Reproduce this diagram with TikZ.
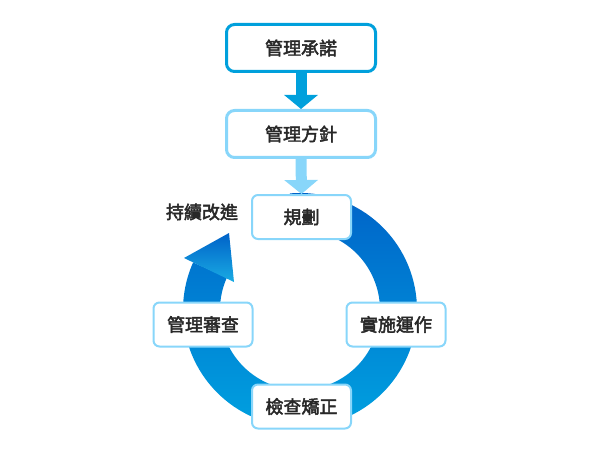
\documentclass[tikz,border=0pt]{standalone}
\usepackage{fontspec}
\newfontfamily\cjk{Noto Sans CJK TC}[FakeBold=2.6]
\usetikzlibrary{arrows.meta,calc}
\definecolor{deepcyan}{RGB}{0,160,220}
\definecolor{lightcyan}{RGB}{136,214,250}
\definecolor{ringtop}{RGB}{0,98,200}
\definecolor{ringbot}{RGB}{0,162,224}
\definecolor{txt}{RGB}{40,40,40}
\tikzset{
  lbl/.style={font=\cjk\fontsize{18}{18}\selectfont, text=txt},
  stagebox/.style={lbl, draw=lightcyan, line width=2pt, fill=white, rounded corners=6pt,
    minimum width=99pt, minimum height=44pt, inner sep=0pt},
  topbox/.style={lbl, draw=deepcyan, line width=3pt, fill=white, rounded corners=8pt,
    minimum width=149pt, minimum height=47pt, inner sep=0pt},
  midbox/.style={topbox, draw=lightcyan},
  fatarrow/.style={line width=11pt, line cap=butt, -{Triangle[width=33pt,length=14pt]}},
}
\begin{document}
\begin{tikzpicture}[x=1pt,y=1pt]
\useasboundingbox (0,0) rectangle (598,-452);
\coordinate (C) at (300,-310);
% ring
\shade[top color=ringtop, bottom color=ringbot]
  ($(C)+(95:117)$) arc[start angle=95, end angle=-204, radius=117]
  -- ($(C)+(-204:80)$) arc[start angle=-204, end angle=95, radius=80] -- cycle;
% arrow head of ring
\shade[top color=ringtop, bottom color=ringbot!90!white]
  (184,-258) -- (229,-233) -- (234,-282) -- cycle;
% boxes
\node[topbox] (commit) at (301,-48) {管理承諾};
\node[midbox] (policy) at (301,-134) {管理方針};
\node[stagebox] (plan) at (301.5,-217) {規劃};
\node[stagebox] (do) at (396,-324.5) {實施運作};
\node[stagebox] (check) at (301.5,-406.5) {檢查矯正};
\node[stagebox] (review) at (203,-324.5) {管理審查};
\node[lbl] (cont) at (202,-212) {持續改進};
% arrows
\draw[fatarrow, deepcyan] (commit.south) -- (policy.north);
\draw[fatarrow, lightcyan] (policy.south) -- (plan.north);
\end{tikzpicture}
\end{document}
